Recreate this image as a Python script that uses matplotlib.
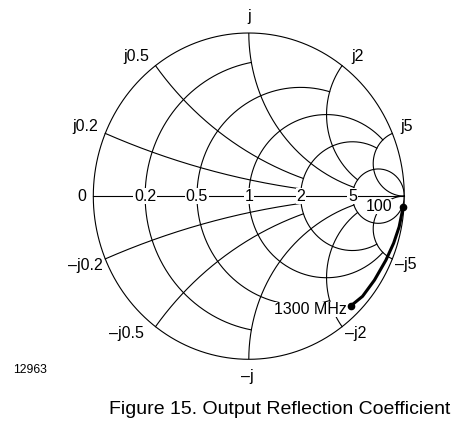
import numpy as np
import matplotlib.pyplot as plt

plt.rcParams['font.family'] = ['Liberation Sans', 'DejaVu Sans']

# grid of the chart: resistance circles and the |x| where each stops
r_circles = [0.2, 0.5, 1, 2, 5]
r_stop_x = [1, 2, 5, 5, np.inf]
# reactance arcs and the resistance circle each runs in to
x_arcs = [0.2, 0.5, 1, 2, 5]
x_stop_r = [2, 2, 5, 5, np.inf]

r_labels = ['0.2', '0.5', '1', '2', '5']
x_labels_pos = ['j0.2', 'j0.5', 'j', 'j2', 'j5']
x_labels_neg = ['\u2013j0.2', '\u2013j0.5', '\u2013j', '\u2013j2', '\u2013j5']

# output reflection coefficient, 100 -> 1300 MHz
freq = [100, 300, 500, 700, 900, 1100, 1300]
s22_mag = [0.995, 0.985, 0.975, 0.965, 0.958, 0.955, 0.94]
s22_ang = [-3.8, -11, -17.2, -24, -32.5, -40, -45.5]


def gamma(z):
    return (z - 1) / (z + 1)


fig = plt.figure(figsize=(4.62, 4.28), dpi=100)
ax = fig.add_axes([93.3 / 462, (428 - 359.3) / 428, 311 / 462, 326.3 / 428])
ax.set_xlim(-1, 1)
ax.set_ylim(-1, 1)
ax.axis('off')

lw = 0.8
t = np.linspace(0, 2 * np.pi, 721)
ax.plot(np.cos(t), np.sin(t), color='black', lw=lw, clip_on=False)
ax.plot([-1, 1], [0, 0], color='black', lw=lw, clip_on=False)

for r, xs in zip(r_circles, r_stop_x):
    a = np.arctan(xs)
    xx = np.tan(np.linspace(-a, a, 600))
    g = gamma(r + 1j * xx)
    ax.plot(g.real, g.imag, color='black', lw=lw)

for x, rs in zip(x_arcs, x_stop_r):
    a = np.arctan(rs)
    rr = np.tan(np.linspace(0, a, 600))
    for s in (1, -1):
        g = gamma(rr + 1j * s * x)
        ax.plot(g.real, g.imag, color='black', lw=lw)

fs = 11.5
box = dict(facecolor='white', edgecolor='none', pad=0.5)
for r, lab in zip(r_circles, r_labels):
    ax.text(gamma(r), 0, lab, ha='center', va='center', fontsize=fs, bbox=box, zorder=3)
ax.annotate('0', xy=(-1, 0), xytext=(-11, 0), textcoords='offset pixels',
            ha='center', va='center', fontsize=fs)

pos_off = [(-20, 7), (-19, 9), (0, 16), (15, 9), (14, 7)]
neg_off = [(-20, -7), (-29, -7), (-1, -17), (14, -7), (13, -6)]
for x, lp, ln, op, on in zip(x_arcs, x_labels_pos, x_labels_neg, pos_off, neg_off):
    g = gamma(1j * x)
    ax.annotate(lp, xy=(g.real, g.imag), xytext=op, textcoords='offset pixels',
                ha='center', va='center', fontsize=fs, annotation_clip=False)
    ax.annotate(ln, xy=(g.real, -g.imag), xytext=on, textcoords='offset pixels',
                ha='center', va='center', fontsize=fs, annotation_clip=False)

s22 = np.array(s22_mag) * np.exp(1j * np.radians(s22_ang))
ax.plot(s22.real, s22.imag, color='black', lw=2.2, solid_capstyle='round', zorder=4, clip_on=False)
ax.plot(s22.real[[0, -1]], s22.imag[[0, -1]], 'o', color='black', ms=4.5, zorder=5, clip_on=False)
ax.annotate(str(freq[0]), xy=(s22.real[0], s22.imag[0]), xytext=(-11, 0),
            textcoords='offset pixels', ha='right', va='center', fontsize=fs,
            bbox=dict(facecolor='white', edgecolor='none', pad=0), zorder=3)
ax.annotate(f'{freq[-1]} MHz', xy=(s22.real[-1], s22.imag[-1]), xytext=(-5, -4),
            textcoords='offset pixels', ha='right', va='center', fontsize=fs,
            bbox=dict(facecolor='white', edgecolor='none', pad=0), zorder=3)

fig.text(30 / 462, 1 - 370 / 428, '12963', ha='center', va='center', fontsize=8.8)
fig.text(280 / 462, 1 - 410 / 428, 'Figure 15. Output Reflection Coefficient',
         ha='center', va='center', fontsize=14)

fig.savefig('out.png', dpi=100)
